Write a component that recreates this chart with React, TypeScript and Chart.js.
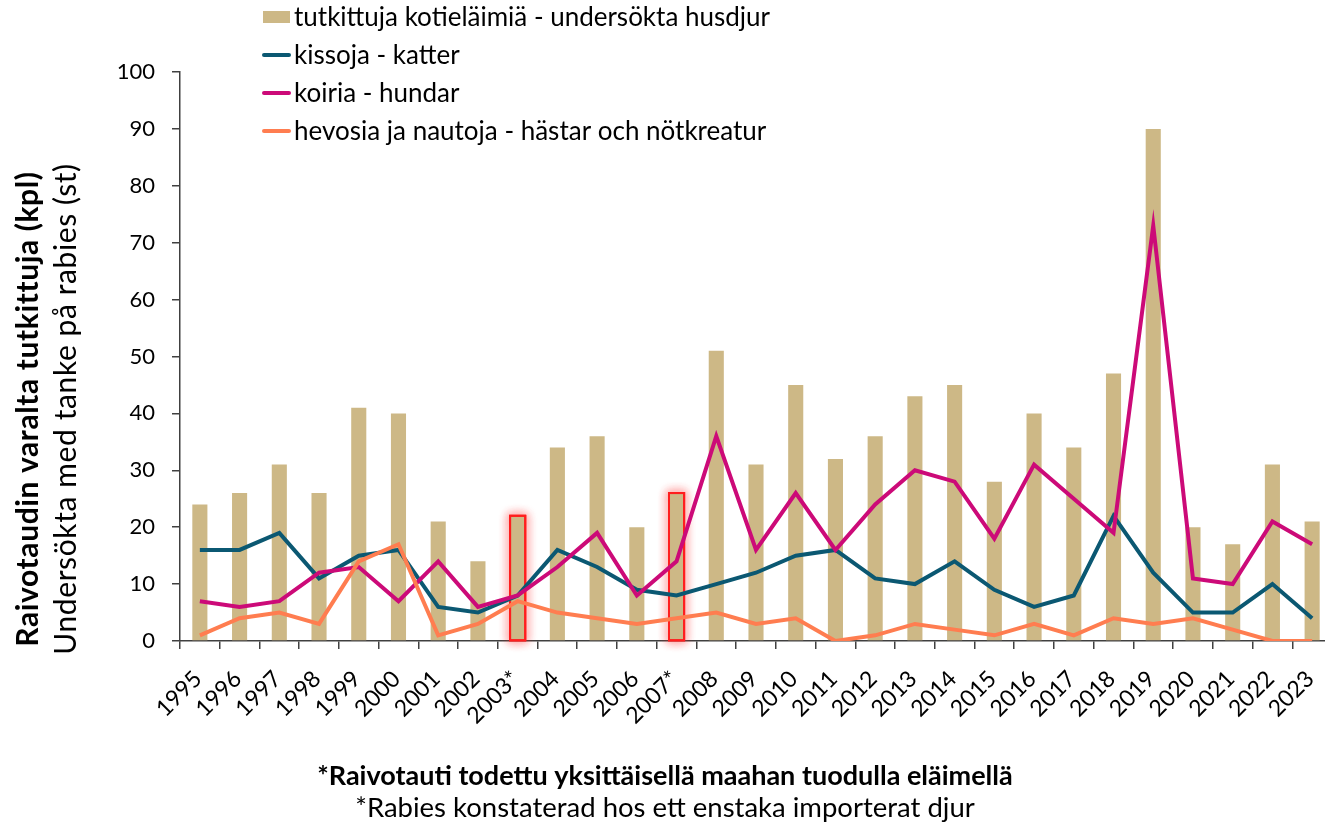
import React, { useEffect, useRef } from 'react';
import { Chart, registerables } from 'chart.js';

Chart.register(...registerables);

// ---- data ----
const years = [
  '1995', '1996', '1997', '1998', '1999', '2000', '2001', '2002', '2003*', '2004',
  '2005', '2006', '2007*', '2008', '2009', '2010', '2011', '2012', '2013', '2014',
  '2015', '2016', '2017', '2018', '2019', '2020', '2021', '2022', '2023',
];
const examined = [24, 26, 31, 26, 41, 40, 21, 14, 22, 34, 36, 20, 26, 51, 31, 45, 32, 36, 43, 45, 28, 40, 34, 47, 90, 20, 17, 31, 21];
const cats = [16, 16, 19, 11, 15, 16, 6, 5, 8, 16, 13, 9, 8, 10, 12, 15, 16, 11, 10, 14, 9, 6, 8, 22, 12, 5, 5, 10, 4];
const dogs = [7, 6, 7, 12, 13, 7, 14, 6, 8, 13, 19, 8, 14, 36, 16, 26, 16, 24, 30, 28, 18, 31, 25, 19, 73, 11, 10, 21, 17];
const horses = [1, 4, 5, 3, 14, 17, 1, 3, 7, 5, 4, 3, 4, 5, 3, 4, 0, 1, 3, 2, 1, 3, 1, 4, 3, 4, 2, 0, 0];

const seriesLabels = [
  'tutkittuja kotieläimiä - undersökta husdjur',
  'kissoja - katter',
  'koiria - hundar',
  'hevosia ja nautoja - hästar och nötkreatur',
];
const yTitle1 = 'Raivotaudin varalta tutkittuja (kpl)';
const yTitle2 = 'Undersökta med tanke på rabies (st)';
const note1 = '*Raivotauti todettu yksittäisellä maahan tuodulla eläimellä';
const note2 = '*Rabies konstaterad hos ett enstaka importerat djur';

const Y_MIN = 0;
const Y_MAX = 100;
const Y_STEP = 10;

const FONT = 'Lato, "Open Sans", "Noto Sans", sans-serif';
const TAN = '#CDB886';
const TEAL = '#0B5872';
const MAGENTA = '#CC0A78';
const CORAL = '#FF7D50';
const AXIS = '#404040';

const decorPlugin = {
  id: 'decor',
  afterDatasetDraw(chart: any, args: any) {
    if (args.index !== 0) return;
    const meta = chart.getDatasetMeta(0);
    const ctx = chart.ctx;
    years.forEach((lab, i) => {
      if (!lab.endsWith('*')) return;
      const el = meta.data[i];
      const p = el.getProps(['x', 'y', 'base', 'width'], true);
      const left = p.x - p.width / 2;
      const h = p.base - p.y;
      ctx.save();
      ctx.strokeStyle = '#FF1E1E';
      ctx.lineWidth = 2;
      ctx.shadowColor = 'rgba(255,40,40,0.85)';
      ctx.shadowBlur = 10;
      ctx.strokeRect(left, p.y, p.width, h);
      ctx.strokeRect(left, p.y, p.width, h);
      ctx.shadowBlur = 0;
      ctx.shadowColor = 'transparent';
      ctx.fillStyle = TAN;
      ctx.fillRect(left + 1, p.y + 1, p.width - 2, h - 2);
      ctx.strokeRect(left, p.y, p.width, h);
      ctx.restore();
    });
  },
  afterDraw(chart: any) {
    const ctx = chart.ctx;
    ctx.save();
    // x tick labels (rotated 45°), positioned by the category scale
    const xs = chart.scales.x;
    ctx.fillStyle = '#000';
    ctx.font = `23px ${FONT}`;
    ctx.textAlign = 'right';
    ctx.textBaseline = 'middle';
    chart.data.labels.forEach((lab: string, i: number) => {
      const x = xs.getPixelForTick(i);
      ctx.save();
      ctx.translate(x - 2, xs.top + 34);
      ctx.rotate(-Math.PI / 4);
      ctx.fillText(lab, 0, 0);
      ctx.restore();
    });
    // legend
    const colors = [TAN, TEAL, MAGENTA, CORAL];
    const lx = 263;
    const rows = [17, 55, 93, 131];
    ctx.font = `26px ${FONT}`;
    ctx.textBaseline = 'middle';
    ctx.textAlign = 'left';
    chart.data.datasets.forEach((ds: any, i: number) => {
      const cy = rows[i];
      if (i === 0) {
        ctx.fillStyle = colors[i];
        ctx.fillRect(lx, cy - 6, 27, 12);
      } else {
        ctx.strokeStyle = colors[i];
        ctx.lineWidth = 4;
        ctx.lineCap = 'round';
        ctx.beginPath();
        ctx.moveTo(lx + 1, cy);
        ctx.lineTo(lx + 26, cy);
        ctx.stroke();
      }
      ctx.fillStyle = '#000';
      ctx.fillText(ds.label, lx + 31, cy + 1);
    });
    // y title
    ctx.fillStyle = '#000';
    ctx.textAlign = 'center';
    ctx.textBaseline = 'middle';
    ctx.save();
    ctx.translate(28, 409);
    ctx.rotate(-Math.PI / 2);
    (ctx as any).letterSpacing = '0.6px';
    ctx.font = `bold 30px ${FONT}`;
    ctx.fillText(yTitle1, 0, 0);
    ctx.restore();
    ctx.save();
    ctx.translate(66, 409);
    ctx.rotate(-Math.PI / 2);
    (ctx as any).letterSpacing = '0.6px';
    ctx.font = `30px ${FONT}`;
    ctx.fillText(yTitle2, 0, 0);
    ctx.restore();
    // footnotes
    ctx.font = `bold 27px ${FONT}`;
    ctx.fillText(note1, 665, 776);
    ctx.font = `27.5px ${FONT}`;
    ctx.fillText(note2, 665, 808);
    ctx.restore();
  },
};

export default function App() {
  const ref = useRef<HTMLCanvasElement | null>(null);
  useEffect(() => {
    if (!ref.current) return;
    const chart = new Chart(ref.current, {
      type: 'bar',
      data: {
        labels: years,
        datasets: [
          {
            type: 'bar',
            label: seriesLabels[0],
            data: examined,
            backgroundColor: TAN,
            borderWidth: 0,
            barPercentage: 0.38,
            categoryPercentage: 1,
            order: 10,
          },
          {
            type: 'line',
            label: seriesLabels[1],
            data: cats,
            borderColor: TEAL,
            backgroundColor: TEAL,
            borderWidth: 4,
            pointRadius: 0,
            tension: 0,
            order: 3,
          },
          {
            type: 'line',
            label: seriesLabels[2],
            data: dogs,
            borderColor: MAGENTA,
            backgroundColor: MAGENTA,
            borderWidth: 4,
            pointRadius: 0,
            tension: 0,
            order: 2,
          },
          {
            type: 'line',
            label: seriesLabels[3],
            data: horses,
            borderColor: CORAL,
            backgroundColor: CORAL,
            borderWidth: 4,
            pointRadius: 0,
            tension: 0,
            order: 1,
          },
        ] as any,
      },
      options: {
        responsive: false,
        animation: false,
        devicePixelRatio: 1,
        layout: { padding: { left: 0, top: 72, right: 8, bottom: 110 } },
        plugins: {
          legend: { display: false },
          tooltip: { enabled: false },
          title: { display: false },
        },
        scales: {
          x: {
            offset: true,
            grid: {
              offset: true,
              drawOnChartArea: false,
              drawTicks: true,
              tickLength: 8,
              color: AXIS,
              lineWidth: 1.5,
            },
            border: { display: true, color: AXIS, width: 1.5 },
            ticks: {
              display: false,
              autoSkip: false,
            },
            afterFit: (s: any) => {
              s.height = 75;
            },
          },
          y: {
            min: Y_MIN,
            max: Y_MAX,
            grid: {
              drawOnChartArea: false,
              drawTicks: true,
              tickLength: 8,
              color: AXIS,
              lineWidth: 1.5,
            },
            border: { display: true, color: AXIS, width: 1.5 },
            ticks: {
              stepSize: Y_STEP,
              padding: 17,
              color: '#000',
              font: { family: FONT, size: 22 },
            },
            afterFit: (s: any) => {
              s.width = 180;
            },
          },
        },
      } as any,
      plugins: [decorPlugin],
    });
    return () => chart.destroy();
  }, []);
  return (
    <div
      style={{
        position: 'fixed',
        left: 0,
        top: 0,
        width: 1325,
        height: 826,
        overflow: 'hidden',
        background: '#fff',
      }}
    >
      <canvas ref={ref} width={1340} height={826} style={{ display: 'block' }} />
    </div>
  );
}
